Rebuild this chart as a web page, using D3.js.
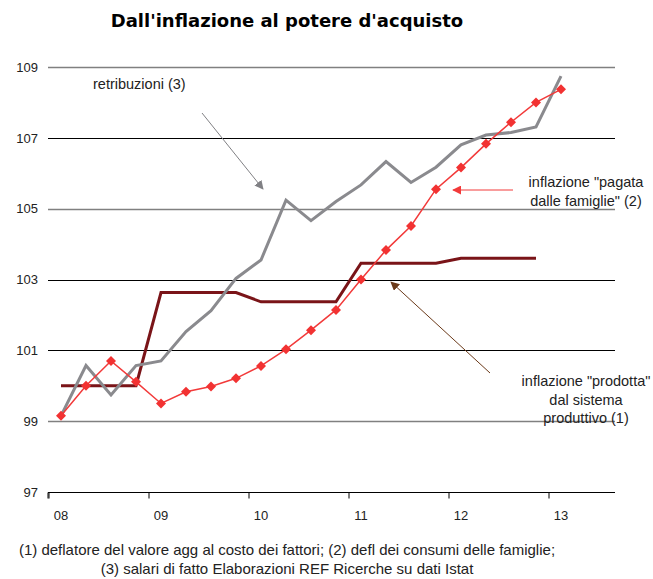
<!DOCTYPE html>
<html>
<head>
<meta charset="utf-8">
<script src="https://cdn.jsdelivr.net/npm/d3@7"></script>
<style>
  body { margin: 0; background: #fff; }
  text { font-family: "Liberation Sans", Arial, sans-serif; }
</style>
</head>
<body>
<div id="chart"></div>
<script>
// quarters 2008Q1 .. 2013Q1
var quarters = d3.range(21);
var yearLabels = ["08", "09", "10", "11", "12", "13"];
var yTicks = [97, 99, 101, 103, 105, 107, 109];

// inflazione "pagata dalle famiglie" (2)
var pagata = [99.15, 100.0, 100.7, 100.11, 99.5, 99.83, 99.98, 100.21, 100.56, 101.03,
  101.57, 102.14, 103.0, 103.83, 104.51, 105.55, 106.16, 106.83, 107.44, 108.0, 108.37];
// retribuzioni (3)
var retribuzioni = [99.15, 100.57, 99.74, 100.57, 100.7, 101.53, 102.12, 103.03, 103.55, 105.24,
  104.66, 105.2, 105.67, 106.33, 105.74, 106.17, 106.8, 107.08, 107.15, 107.31, 108.74];
// inflazione "prodotta dal sistema produttivo" (1)
var prodotta = [100.0, 100.0, 100.0, 100.0, 102.63, 102.63, 102.63, 102.63, 102.37, 102.37,
  102.37, 102.37, 103.46, 103.46, 103.46, 103.46, 103.6, 103.6, 103.6, 103.6];

var svgWidth = 653;
var svgHeight = 579;

var svg = d3.select("#chart")
  .append("svg")
  .attr("width", svgWidth)
  .attr("height", svgHeight);

// x: quarter index, year boundaries at -0.5, 3.5, ...
var x = d3.scaleLinear()
  .domain([-0.52, 22.16])
  .range([48, 615]);

var y = d3.scaleLinear()
  .domain([97, 109])
  .range([492, 67]);

// title
svg.append("text")
  .attr("x", 287)
  .attr("y", 27)
  .attr("text-anchor", "middle")
  .style("font-family", "'DejaVu Sans', Verdana, sans-serif")
  .style("font-weight", "bold")
  .style("font-size", "18px")
  .text("Dall'inflazione al potere d'acquisto");

// gridlines
var gridColor = { 109: "#808080", 105: "#808080", 99: "#808080" };
svg.append("g").selectAll("line")
  .data(yTicks.filter(d => d > 97))
  .enter()
  .append("line")
  .attr("x1", x.range()[0])
  .attr("x2", x.range()[1])
  .attr("y1", d => Math.round(y(d)) + 0.5)
  .attr("y2", d => Math.round(y(d)) + 0.5)
  .attr("stroke", d => gridColor[d] || "#000")
  .attr("stroke-width", d => gridColor[d] ? 1.5 : 1);

// y labels
var yAxis = d3.axisLeft(y).tickValues(yTicks).tickSize(0).tickPadding(10).tickFormat(d3.format("d"));
var yG = svg.append("g")
  .attr("transform", "translate(48,0)")
  .call(yAxis);
yG.select(".domain").remove();
yG.selectAll("text").style("font-size", "13px").attr("fill", "#222")
  .style("font-family", "'Liberation Sans', Arial, sans-serif");

// x axis
var xAxis = d3.axisBottom(x)
  .tickValues(d3.range(-0.5, 22, 4))
  .tickSize(6)
  .tickFormat("");
var xG = svg.append("g")
  .attr("transform", "translate(0," + (Math.round(y(97)) + 0.5) + ")")
  .call(xAxis);
xG.select(".domain").attr("d", "M" + x.range()[0] + ",6V0H" + x.range()[1]);
xG.selectAll("line, path").attr("stroke", "#000");

svg.append("g").selectAll("text")
  .data(yearLabels)
  .enter()
  .append("text")
  .attr("x", (d, i) => x(i * 4))
  .attr("y", 520)
  .attr("text-anchor", "middle")
  .style("font-size", "13px")
  .attr("fill", "#222")
  .text(d => d);

// lines
var line = d3.line()
  .x((d, i) => x(i))
  .y(d => y(d));

svg.append("path")
  .datum(prodotta)
  .attr("d", line)
  .attr("fill", "none")
  .attr("stroke", "#7a1418")
  .attr("stroke-width", 3);

svg.append("path")
  .datum(retribuzioni)
  .attr("d", line)
  .attr("fill", "none")
  .attr("stroke", "#8a8a8e")
  .attr("stroke-width", 3);

svg.append("path")
  .datum(pagata)
  .attr("d", line)
  .attr("fill", "none")
  .attr("stroke", "#f23a3a")
  .attr("stroke-width", 1.5);

svg.append("g").selectAll("path")
  .data(pagata)
  .enter()
  .append("path")
  .attr("d", d3.symbol().type(d3.symbolDiamond2).size(64))
  .attr("transform", (d, i) => "translate(" + x(i) + "," + y(d) + ")")
  .attr("fill", "#f23232");

// arrows
var defs = svg.append("defs");
function marker(id, color) {
  defs.append("marker")
    .attr("id", id)
    .attr("viewBox", "0 0 10 10")
    .attr("refX", 9)
    .attr("refY", 5)
    .attr("markerWidth", 9)
    .attr("markerHeight", 9)
    .attr("markerUnits", "userSpaceOnUse")
    .attr("orient", "auto")
    .append("path")
    .attr("d", "M0,0L10,5L0,10z")
    .attr("fill", color);
}
marker("arrGray", "#808084");
marker("arrRed", "#f23a3a");
marker("arrBrown", "#6b3a1a");

svg.append("line")
  .attr("x1", 202).attr("y1", 113).attr("x2", 263).attr("y2", 189)
  .attr("stroke", "#808084").attr("stroke-width", 1)
  .attr("marker-end", "url(#arrGray)");
svg.append("line")
  .attr("x1", 513).attr("y1", 190).attr("x2", 453).attr("y2", 190)
  .attr("stroke", "#f23a3a").attr("stroke-width", 1)
  .attr("marker-end", "url(#arrRed)");
svg.append("line")
  .attr("x1", 490).attr("y1", 373).attr("x2", 391).attr("y2", 282)
  .attr("stroke", "#6b3a1a").attr("stroke-width", 1)
  .attr("marker-end", "url(#arrBrown)");

// annotations
function note(xc, y0, lines, anchor, size) {
  var t = svg.append("text")
    .attr("text-anchor", anchor || "middle")
    .style("font-size", (size || 14.5) + "px")
    .attr("fill", "#222");
  lines.forEach(function(l, i) {
    t.append("tspan").attr("x", xc).attr("y", y0 + i * 18.5).text(l);
  });
}
note(93, 89, ["retribuzioni (3)"], "start");
note(586, 187, ["inflazione \"pagata", "dalle famiglie\" (2)"]);
note(586, 386, ["inflazione \"prodotta\"", "dal sistema", "produttivo (1)"]);

// footnote
note(287, 555, ["(1) deflatore del valore agg al costo dei fattori; (2) defl dei consumi delle famiglie;"], "middle", 15);
note(287, 574, ["(3) salari di fatto Elaborazioni REF Ricerche su dati Istat"], "middle", 15);
</script>
</body>
</html>
